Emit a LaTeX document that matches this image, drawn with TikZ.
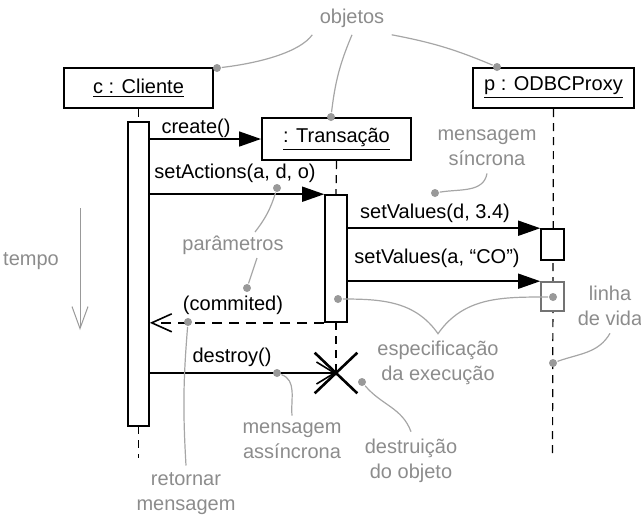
\documentclass[tikz,border=0pt]{standalone}
\usepackage{fontspec}
\setmainfont{Liberation Sans}
\usetikzlibrary{arrows.meta,shapes.misc}

\begin{document}
\begin{tikzpicture}[x=0.5pt, y=-0.5pt, line width=0.8pt,
  objeto/.style={draw, line width=1pt, minimum height=20pt, inner sep=0pt, font=\fontsize{10}{12}\selectfont},
  ativ/.style={draw, fill=white, minimum width=10.5pt, inner sep=0pt},
  msg/.style={-{Triangle[length=11pt,width=7.5pt]}},
  assinc/.style={-{Straight Barb[length=9pt,width=11pt]}},
  ret/.style={dash pattern=on 5pt off 3.5pt, -{Straight Barb[length=10pt,width=9pt]}},
  vida/.style={dash pattern=on 4pt off 3pt, line width=0.6pt},
  rotulo/.style={font=\fontsize{10}{12}\selectfont},
  nota/.style={text=black!45, align=center, font=\fontsize{10}{12.5}\selectfont},
  liga/.style={draw=black!35, line width=0.6pt},
  ponto/.style={circle, fill=black!40, inner sep=0pt, minimum size=4pt}
]
 \useasboundingbox (0,0) rectangle (641,516);

 % objetos
 \node[objeto, minimum width=74.5pt] (cli) at (138.5,88) {\underline{c : Cliente}};
 \node[objeto, minimum width=74.5pt, minimum height=21pt] (tra) at (336.5,139) {\underline{: Transação}};
 \node[objeto, minimum width=80.5pt] (prx) at (553.5,88) {\underline{p : ODBCProxy}};

 \coordinate (cliFim) at (138.5,458);
 \coordinate (prxFim) at (552.5,457);

 % linhas de vida
 \draw[vida] (cli.south) -- (138.5,122) (138.5,426) -- (cliFim);
 \draw[vida] (tra.south) -- (336,195);
 \draw[vida] (prx.south) -- (prxFim);
 \draw[vida] (336,322) -- (336,373);

 % ativacoes
 \node[ativ, minimum height=152pt] (cliAtv) at (138.5,274) {};
 \node[ativ, minimum width=11pt, minimum height=63.5pt] (traAtv) at (336,258.5) {};
 \node[ativ, minimum width=11.5pt, minimum height=15.5pt] (prxAtv1) at (552.5,244.5) {};
 \node[ativ, draw=black!55, minimum width=11.5pt, minimum height=14.5pt] (prxAtv2) at (552.5,296.5) {};
 \node[draw, cross out, line width=1.3pt, minimum width=20pt, minimum height=19pt] (xis) at (336,373) {};

 % mensagens
 \draw[msg] (cliAtv.east |- tra.west) -- (tra.west);
 \draw[msg] (cliAtv.east |- traAtv.north west) -- (traAtv.north west);
 \draw[msg] (traAtv.east |- prxAtv1.north west) -- (prxAtv1.north west);
 \draw[msg] (traAtv.east |- prxAtv2.north west) -- (prxAtv2.north west);
 \draw[ret] (traAtv.south west) -- (cliAtv.east |- traAtv.south west);
 \draw[assinc] (cliAtv.east |- xis.center) -- (xis.center);

 \node[rotulo] (lCreate) at (196,128) {create()};
 \node[rotulo] (lActions) at (235,173) {setActions(a, d, o)};
 \node[rotulo] (lValues1) at (435,213) {setValues(d, 3.4)};
 \node[rotulo] (lValues2) at (437,258) {setValues(a, “CO”)};
 \node[rotulo] (lCommit) at (233,305) {(commited)};
 \node[rotulo] (lDestroy) at (232,357) {destroy()};

 % tempo
 \node[nota] (nTempo) at (31,261) {tempo};
 \coordinate (tIni) at (80,208);
 \coordinate (tFim) at (80,330);
 \draw[black!40, line width=0.5pt, -{Straight Barb[length=11pt,width=8pt]}] (tIni) -- (tFim);

 % notas
 \node[nota] (nObjetos) at (352,18) {objetos};
 \node[ponto] (pCli) at (217,68) {};
 \node[ponto] (pTra) at (331,117) {};
 \node[ponto] (pPrx) at (497,67) {};
 \draw[liga] (nObjetos.south west) .. controls (300,52) and (260,63) .. (pCli);
 \draw[liga] (nObjetos.south) to[bend right=8] (pTra);
 \draw[liga] (nObjetos.south east) to[bend left=6] (pPrx);

 \node[nota] (nSinc) at (487,148) {mensagem\\síncrona};
 \node[ponto] (pSinc) at (435,193) {};
 \draw[liga] (nSinc.south) to[out=-100, in=10] (pSinc);

 \node[nota] (nParam) at (233,245) {parâmetros};
 \node[ponto] (pParam1) at (277,188) {};
 \node[ponto] (pParam2) at (247,288) {};
 \draw[liga] (255,232) to[bend right=10] (pParam1);
 \draw[liga] (257,258) -- (pParam2);

 \node[nota] (nRet) at (186,494) {retornar\\mensagem};
 \node[ponto] (pRet) at (188,322) {};
 \draw[liga] (nRet.north) to[bend left=4] (pRet);

 \node[nota] (nAssinc) at (292,441) {mensagem\\assíncrona};
 \node[ponto] (pAssinc) at (277,373) {};
 \draw[liga] (nAssinc.north) to[out=95, in=-20] (pAssinc);

 \node[nota] (nDest) at (411,461) {destruição\\do objeto};
 \node[ponto] (pDest) at (362,382) {};
 \draw[liga] (nDest.north) to[out=110, in=-50] (pDest);

 \node[nota] (nEspec) at (438,363) {especificação\\da execução};
 \node[ponto] (pEspec1) at (338,299) {};
 \node[ponto] (pEspec2) at (553,297) {};
 \draw[liga] (pEspec1) to[out=0, in=125] (nEspec.north) to[out=55, in=180] (pEspec2);

 \node[nota] (nVida) at (610,306) {linha\\de vida};
 \node[ponto] (pVida) at (553,363) {};
 \draw[liga] (nVida.south) to[out=-120, in=20] (pVida);

\end{tikzpicture}
\end{document}
